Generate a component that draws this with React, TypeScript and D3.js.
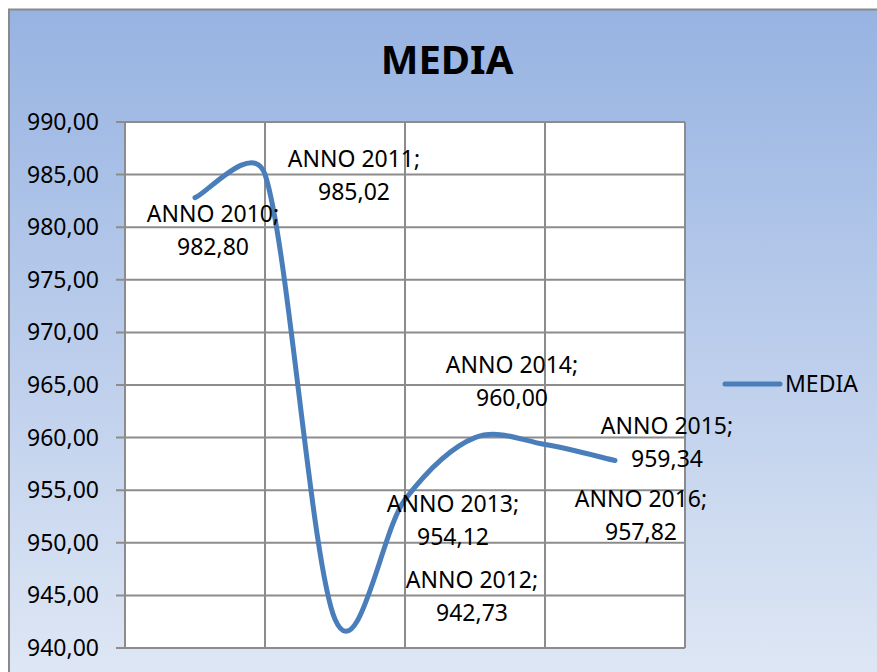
import React from 'react'
import * as d3 from 'd3'

// data
const years = ['ANNO 2010', 'ANNO 2011', 'ANNO 2012', 'ANNO 2013', 'ANNO 2014', 'ANNO 2015', 'ANNO 2016']
const values = [982.8, 985.02, 942.73, 954.12, 960.0, 959.34, 957.82]
const yTicks = [940, 945, 950, 955, 960, 965, 970, 975, 980, 985, 990]
const xGrid = [0, 2, 4, 6, 8]
const seriesName = 'MEDIA'

// where each data label sits relative to its point (manual placement in the original)
const labelOffsets: [number, number][] = [
    [18, 24], [89, -7], [137, -31], [48, 13], [37, -65], [122, -11], [26, 46],
]

const width = 877,
    height = 672
const plot = { left: 125, top: 122, right: 685, bottom: 648 }
const font = '"Noto Sans", "Open Sans", sans-serif'

const x = d3.scaleLinear().domain([0, 8]).range([plot.left, plot.right])
const y = d3.scaleLinear().domain([940, 990]).range([plot.bottom, plot.top])

const fmt = (v: number) => v.toFixed(2).replace('.', ',')

// Excel style smoothed line: bezier control points at 1/6 of the neighbour chord,
// limited to half of the segment length
function smoothPath(pts: [number, number][]) {
    const p = d3.path()
    const dist = (a: [number, number], b: [number, number]) => Math.hypot(b[0] - a[0], b[1] - a[1])
    p.moveTo(pts[0][0], pts[0][1])
    for (let i = 0; i < pts.length - 1; i++) {
        const p0 = pts[Math.max(i - 1, 0)]
        const p1 = pts[i]
        const p2 = pts[i + 1]
        const p3 = pts[Math.min(i + 2, pts.length - 1)]
        const d12 = dist(p1, p2)
        const d02 = dist(p0, p2)
        const d13 = dist(p1, p3)
        const f1 = d02 > 0 ? Math.min(1 / 6, d12 / (2 * d02)) : 0
        const f2 = d13 > 0 ? Math.min(1 / 6, d12 / (2 * d13)) : 0
        const c1x = p1[0] + f1 * (p2[0] - p0[0])
        const c1y = p1[1] + f1 * (p2[1] - p0[1])
        const c2x = p2[0] - f2 * (p3[0] - p1[0])
        const c2y = p2[1] - f2 * (p3[1] - p1[1])
        p.bezierCurveTo(c1x, c1y, c2x, c2y, p2[0], p2[1])
    }
    return p.toString()
}

const App = () => {
    const pts: [number, number][] = values.map((v, i) => [x(i + 1), y(v)])
    const line = smoothPath(pts)

    return (
        <svg width={width} height={height} style={{ display: 'block', position: 'absolute', left: 0, top: 0 }}>
            <defs>
                <linearGradient id="bg" x1="0" y1="0" x2="0" y2="1">
                    <stop offset="0" stopColor="#97b3e2" />
                    <stop offset="1" stopColor="#e0e8f5" />
                </linearGradient>
            </defs>
            <rect x={0} y={0} width={width} height={height} fill="#fff" />
            <rect x={9} y={9.5} width={width + 20} height={height + 10} fill="url(#bg)" stroke="#8a8a8a" strokeWidth={2} />

            <text x={447} y={74} textAnchor="middle" fontFamily={font} fontWeight="bold" fontSize={40} fill="#000">
                {seriesName}
            </text>

            {/* plot area */}
            <rect x={plot.left} y={plot.top} width={plot.right - plot.left} height={plot.bottom - plot.top} fill="#fff" />
            {yTicks.map(t => (
                <g key={t}>
                    <line x1={116} x2={plot.right} y1={y(t)} y2={y(t)} stroke="#8c8c8c" strokeWidth={2} />
                    <text x={99} y={y(t) + 8} textAnchor="end" fontFamily={font} fontSize={23} fill="#000">
                        {fmt(t)}
                    </text>
                </g>
            ))}
            {xGrid.map(g => (
                <line key={g} x1={x(g)} x2={x(g)} y1={plot.top} y2={plot.bottom} stroke="#8c8c8c" strokeWidth={2} />
            ))}

            <path d={line} fill="none" stroke="#4a7ebb" strokeWidth={5} strokeLinecap="round" strokeLinejoin="round" />

            {years.map((yr, i) => {
                const [dx, dy] = labelOffsets[i]
                const cx = pts[i][0] + dx
                const cy = pts[i][1] + dy
                return (
                    <text key={yr} textAnchor="middle" fontFamily={font} fontSize={23} fill="#000">
                        <tspan x={cx} y={cy}>{yr};</tspan>
                        <tspan x={cx} y={cy + 33}>{fmt(values[i])}</tspan>
                    </text>
                )
            })}

            {/* legend */}
            <line x1={725} x2={780} y1={384} y2={384} stroke="#4a7ebb" strokeWidth={5} strokeLinecap="round" />
            <text x={785} y={392} fontFamily={font} fontSize={23} fill="#000">{seriesName}</text>
        </svg>
    )
}

export default App
